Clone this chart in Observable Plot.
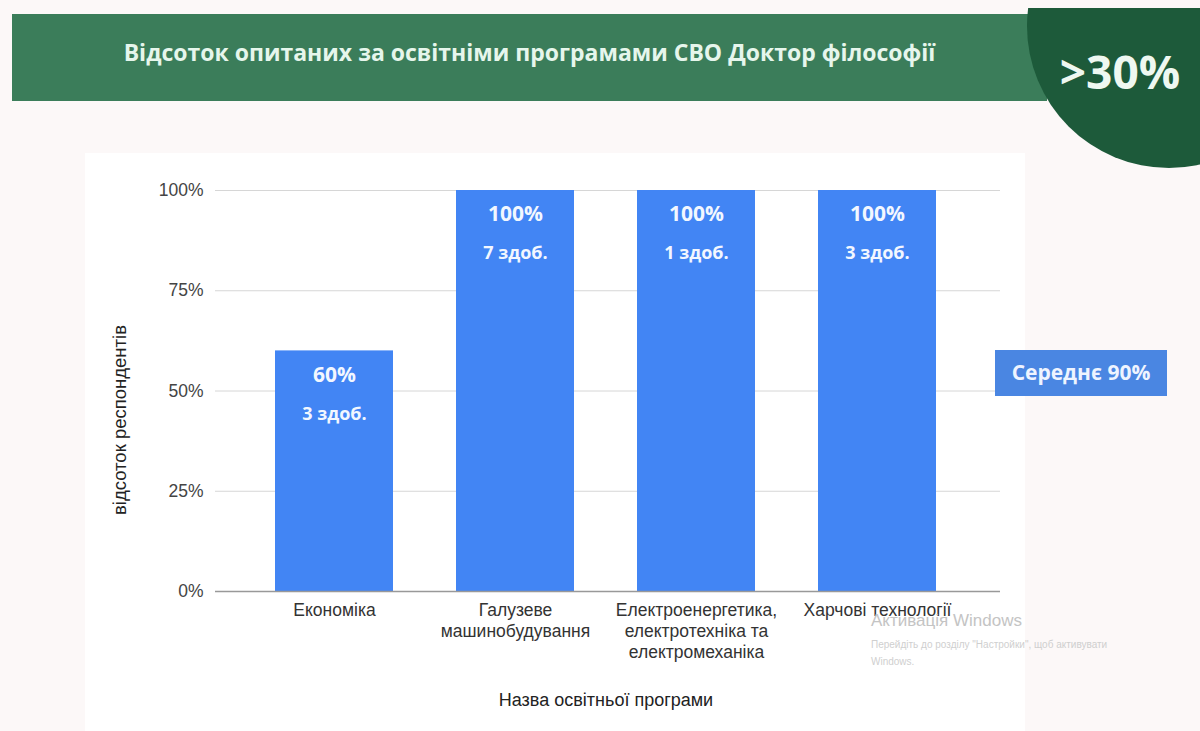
<!DOCTYPE html>
<html><head><meta charset="utf-8">
<script src="https://cdn.jsdelivr.net/npm/d3@7"></script>
<script src="https://cdn.jsdelivr.net/npm/@observablehq/plot@0.6"></script>
<style>
html,body{margin:0;padding:0;}
body{width:1200px;height:731px;position:relative;overflow:hidden;background:#fcf8f8;font-family:"Liberation Sans",Arial,sans-serif;}
#card{position:absolute;left:85px;top:153px;width:940px;height:578px;background:#fff;}
#banner{position:absolute;left:12px;top:14px;width:1035px;height:87px;background:#3b7d5a;}
#title{position:absolute;left:12px;top:36px;width:1035px;text-align:center;font-family:"Open Sans",sans-serif;font-weight:bold;font-size:23px;line-height:32px;color:#e6f6ec;}
#clip{position:absolute;left:1000px;top:8px;width:200px;height:200px;overflow:hidden;}
#circle{position:absolute;left:27px;top:-124px;width:284px;height:284px;border-radius:50%;background:#1d5a3a;}
#big{position:absolute;left:1040px;top:40px;width:160px;text-align:center;font-family:"Open Sans",sans-serif;font-weight:bold;font-size:46px;color:#eef8f1;}
#chart{position:absolute;left:0;top:130px;}
#ytitle{position:absolute;left:120px;top:420px;transform:translate(-50%,-50%) rotate(-90deg);white-space:nowrap;font-size:18.5px;color:#222;}
#xtitle{position:absolute;left:606px;top:700px;transform:translate(-50%,-50%);white-space:nowrap;font-size:18px;color:#222;}
#avg{position:absolute;left:995px;top:350px;width:172px;height:46px;background:#4a86e2;color:#eef4ff;font-family:"Open Sans",sans-serif;font-weight:bold;font-size:21px;line-height:44px;text-align:center;}
#win1{position:absolute;left:871px;top:611px;font-size:17px;color:#c4c4c4;}
#win2{position:absolute;left:871px;top:636px;font-size:10px;color:#cfcfcf;width:272px;line-height:17px;}
</style></head>
<body>
<div id="card"></div>
<div id="banner"></div>
<div id="title">Відсоток опитаних за освітніми програмами СВО Доктор філософії</div>
<div id="clip"><div id="circle"></div></div>
<div id="big">&gt;30%</div>
<div id="chart"></div>
<div id="ytitle">відсоток респондентів</div>
<div id="xtitle">Назва освітньої програми</div>
<div id="avg">Середнє 90%</div>
<div id="win1">Активація Windows</div>
<div id="win2">Перейдіть до розділу "Настройки", щоб активувати Windows.</div>
<script>
const programs = ["Економіка", "Галузеве машинобудування", "Електроенергетика, електротехніка та електромеханіка", "Харчові технології"];
const tickLabels = ["Економіка", "Галузеве\nмашинобудування", "Електроенергетика,\nелектротехніка та\nелектромеханіка", "Харчові технології"];
const percents = [60, 100, 100, 100];
const counts = [3, 7, 1, 3];
const yTicks = [0, 25, 50, 75, 100];

const data = programs.map((p, i) => ({program: p, pct: percents[i], count: counts[i]}));

const chart = Plot.plot({
  width: 1200, height: 601,
  marginTop: 60, marginBottom: 140, marginLeft: 215, marginRight: 200,
  style: {background: "transparent", fontFamily: "'Liberation Sans', Arial, sans-serif"},
  x: {domain: programs, insetLeft: 27, insetRight: 32, paddingInner: 0.35, paddingOuter: 0.175, label: null},
  y: {domain: [0, 100], label: null},
  marks: [
    Plot.ruleY(yTicks.filter(d => d > 0), {stroke: "#d6d6d6", strokeWidth: 1}),
    Plot.barY(data, {x: "program", y: "pct", fill: "#4285f4"}),
    Plot.ruleY([0], {stroke: "#999", strokeWidth: 1.5}),
    Plot.axisY({ticks: yTicks, tickFormat: d => d + "%", tickSize: 0, tickPadding: 12, fontSize: 17.5, fill: "#444", label: null}),
    Plot.axisX({tickSize: 0, tickPadding: 10, tickFormat: d => tickLabels[programs.indexOf(d)], fontSize: 17.5, fill: "#333", lineHeight: 1.2, label: null}),
    Plot.text(data, {x: "program", y: "pct", text: d => d.pct + "%", dy: 24, fill: "#f2f7ff", fontSize: 21, fontWeight: "bold", fontFamily: "Open Sans"}),
    Plot.text(data, {x: "program", y: "pct", text: d => d.count + " здоб.", dy: 63, fill: "#f2f7ff", fontSize: 18, fontWeight: "bold", fontFamily: "Open Sans"})
  ]
});
document.getElementById("chart").appendChild(chart);
</script>
</body></html>
